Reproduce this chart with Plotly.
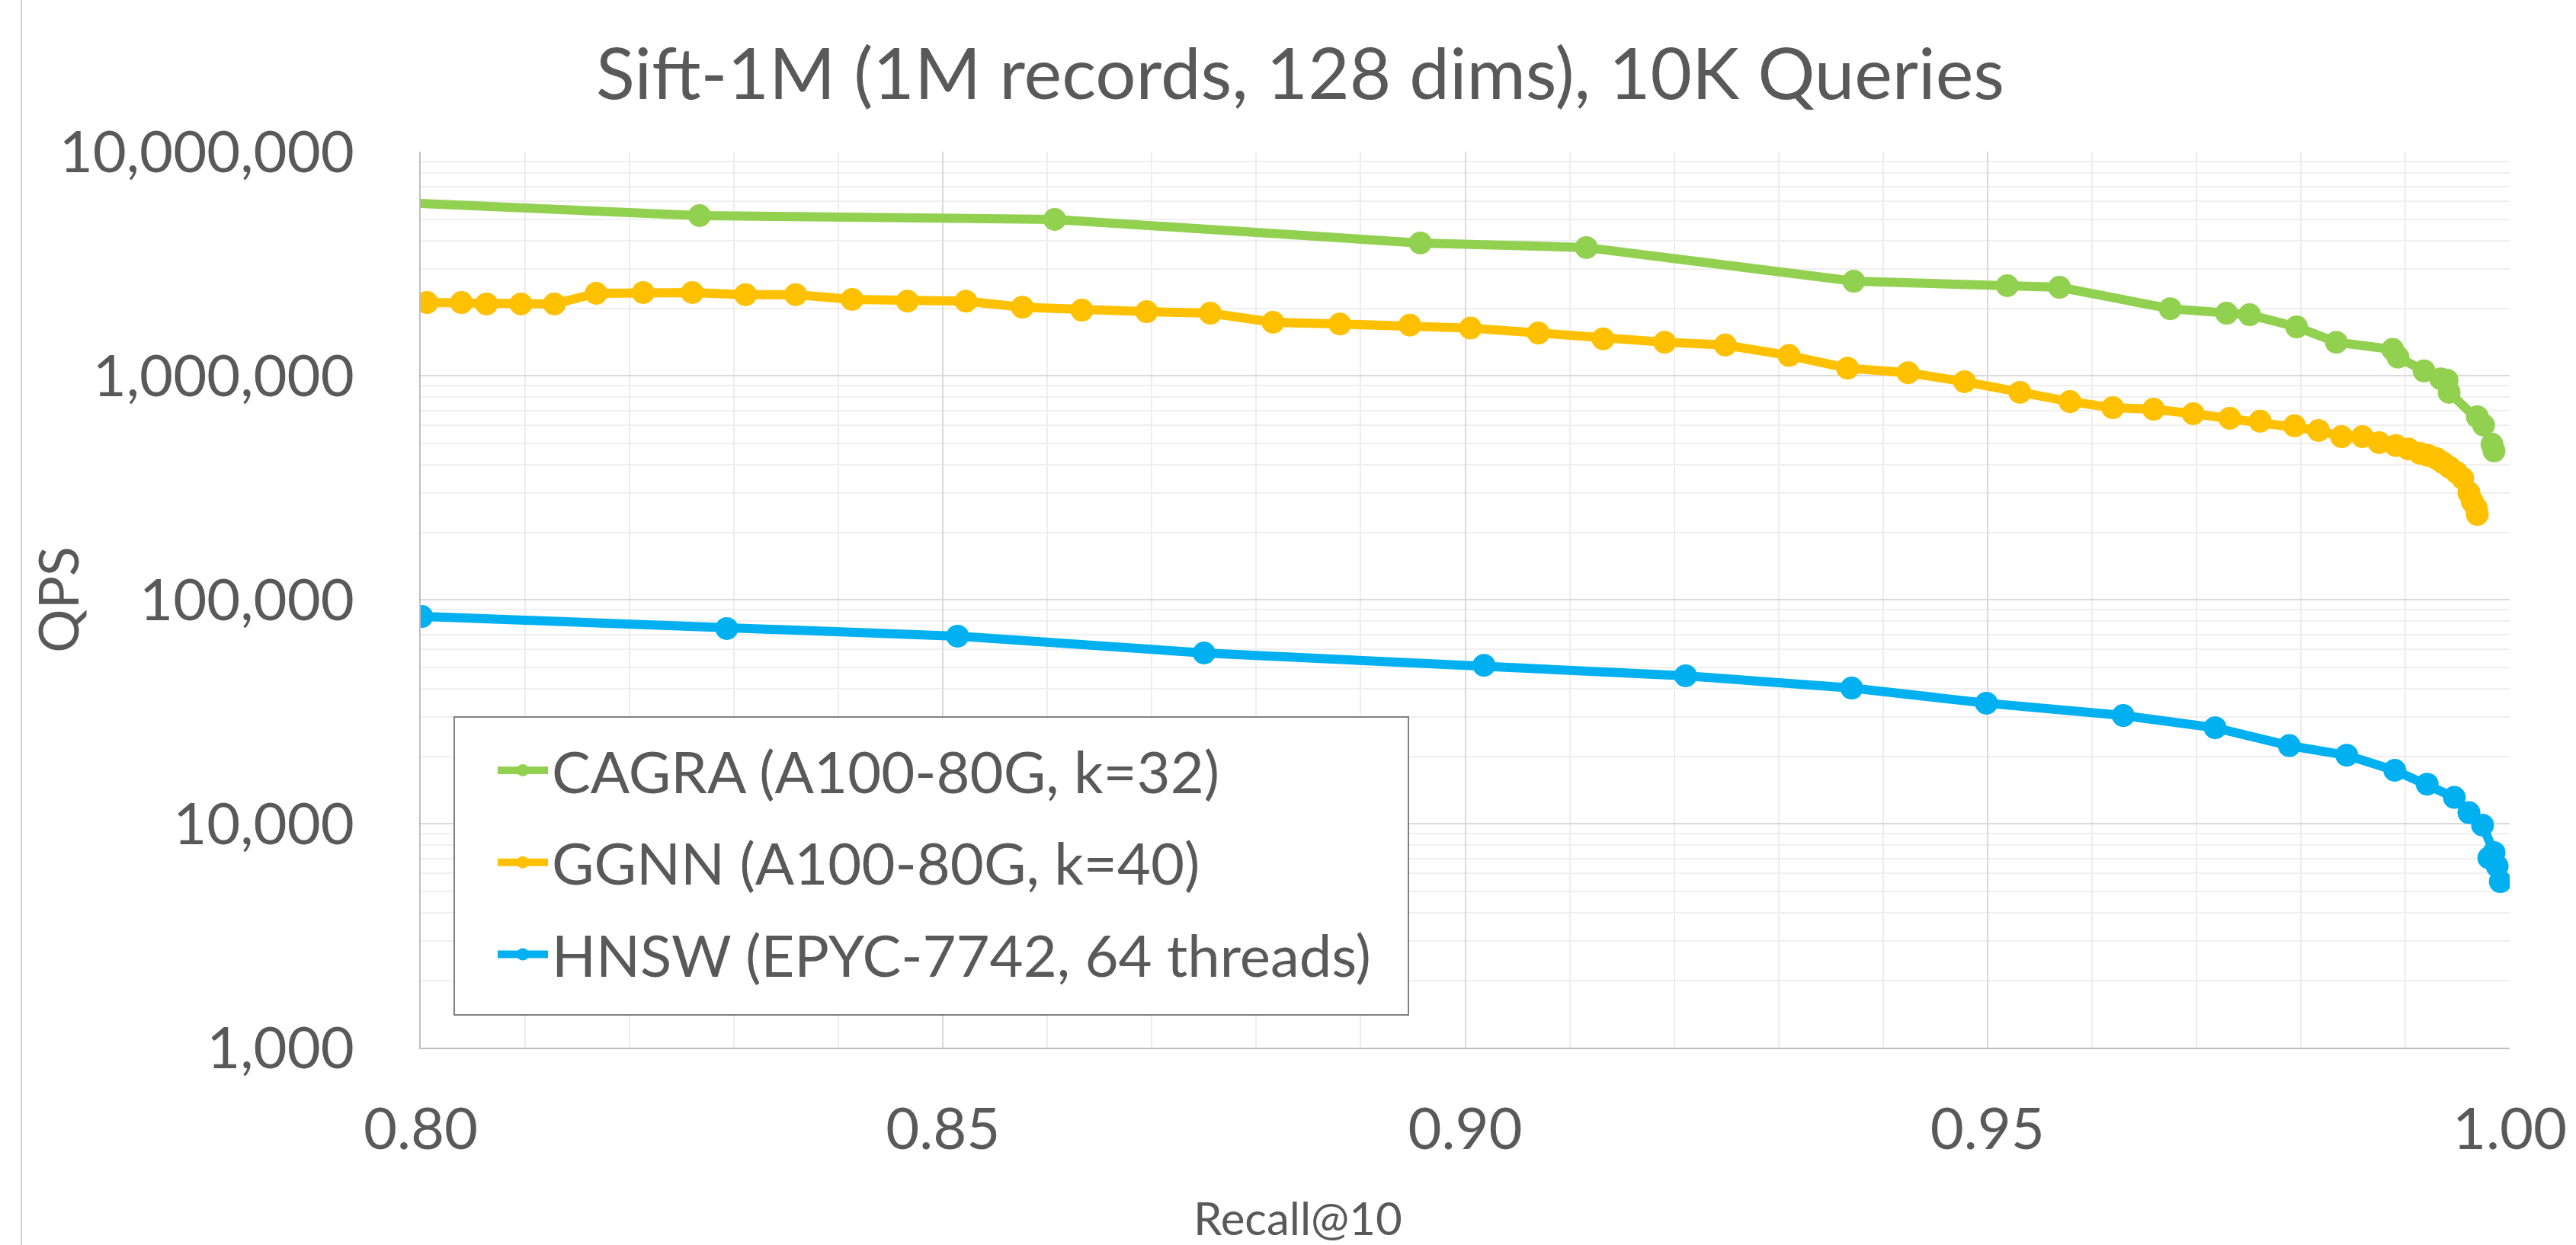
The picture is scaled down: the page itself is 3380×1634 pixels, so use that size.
import plotly.graph_objects as go

# ---------------- data ----------------
cagra_recall = [0.790, 0.8267, 0.8607, 0.8957, 0.9116, 0.9372, 0.9519, 0.9569, 0.9675,
                0.9729, 0.9751, 0.9796, 0.9834, 0.9888, 0.9893, 0.9918, 0.9934, 0.9940,
                0.9942, 0.9969, 0.9975, 0.9983, 0.9985]
cagra_qps = [6150000, 5180000, 4980000, 3910000, 3730000, 2640000, 2520000, 2480000, 1990000,
             1900000, 1870000, 1650000, 1410000, 1310000, 1210000, 1050000, 968000, 955000,
             842000, 655000, 601000, 494000, 461000]

ggnn_recall = [0.8006, 0.8039, 0.8063, 0.8096, 0.8128, 0.8168, 0.8213, 0.8260, 0.8311, 0.8359,
               0.8413, 0.8466, 0.8522, 0.8576, 0.8633, 0.8695, 0.8756, 0.8816, 0.8880, 0.8947,
               0.9005, 0.9070, 0.9132, 0.9191, 0.9249, 0.9310, 0.9366, 0.9424, 0.9478, 0.9531,
               0.9579, 0.9620, 0.9659, 0.9697, 0.9732, 0.9761, 0.9794, 0.9817, 0.9839, 0.9859,
               0.9875, 0.9891, 0.9903, 0.9914, 0.9922, 0.9930, 0.9936, 0.9942, 0.9949, 0.9955,
               0.9961, 0.9964, 0.9968, 0.9969]
ggnn_qps = [2120000, 2120000, 2090000, 2090000, 2090000, 2330000, 2350000, 2350000, 2300000, 2300000,
            2190000, 2150000, 2150000, 2020000, 1960000, 1930000, 1900000, 1730000, 1700000, 1680000,
            1630000, 1550000, 1460000, 1410000, 1370000, 1230000, 1080000, 1030000, 940000, 842000,
            766000, 719000, 708000, 676000, 645000, 626000, 597000, 569000, 534000, 534000,
            502000, 487000, 471000, 450000, 440000, 426000, 409000, 391000, 370000, 348000,
            300000, 275000, 256000, 240000]

hnsw_recall = [0.8001, 0.8293, 0.8514, 0.8750, 0.9018, 0.9211, 0.9370, 0.9499, 0.9630, 0.9718,
               0.9789, 0.9844, 0.9890, 0.9921, 0.9947, 0.9961, 0.9974, 0.9985, 0.9980, 0.9988,
               0.9991]
hnsw_qps = [84100, 74300, 68700, 57800, 50900, 45700, 40300, 34500, 30400, 26800,
            22300, 20200, 17300, 15000, 13100, 11200, 9850, 7430, 7030, 6460,
            5510]

series_names = ["CAGRA (A100-80G, k=32)", "GGNN (A100-80G, k=40)", "HNSW (EPYC-7742, 64 threads)"]
series_colors = ["#92D050", "#FFC000", "#00B0F0"]

title_text = "Sift-1M (1M records, 128 dims), 10K Queries"
x_title = "Recall@10"
y_title = "QPS"

# ---------------- layout geometry (pixels of the 3380x1634 canvas) ----------------
W, H = 3380, 1634
PL, PR, PT, PB = 552, 3293, 199, 1375          # plot area
PW, PH = PR - PL, PB - PT


def px(x):   # canvas x -> paper x
    return (x - PL) / PW


def py(y):   # canvas y -> paper y
    return 1 - (y - PT) / PH


FONT = "Lato, 'Open Sans', sans-serif"
TEXT = "#595959"

fig = go.Figure()
for name, color, xs, ys in zip(series_names, series_colors,
                               [cagra_recall, ggnn_recall, hnsw_recall],
                               [cagra_qps, ggnn_qps, hnsw_qps]):
    fig.add_trace(go.Scatter(
        x=xs, y=ys, name=name, mode="lines+markers",
        line=dict(color=color, width=12),
        marker=dict(color=color, size=30),
        legendgroup=name,
    ))

fig.update_layout(
    width=W, height=H,
    margin=dict(l=PL, r=W - PR, t=PT, b=H - PB),
    paper_bgcolor="white", plot_bgcolor="white",
    font=dict(family=FONT, color=TEXT, size=76),
    title=dict(text=title_text, x=1706 / W, xref="container", xanchor="center",
               y=1 - 97 / H, yref="container", yanchor="middle",
               font=dict(family=FONT, color=TEXT, size=94)),
    showlegend=True,
    legend=dict(x=px(648), y=py(955), xref="paper", yref="paper",
                xanchor="left", yanchor="top",
                bgcolor="rgba(0,0,0,0)", borderwidth=0,
                font=dict(family=FONT, color=TEXT, size=76),
                traceorder="grouped", tracegroupgap=19,
                itemwidth=66, itemsizing="trace"),
    shapes=[
        dict(type="rect", xref="paper", yref="paper",
             x0=px(596), x1=px(1848), y0=py(941), y1=py(1332),
             line=dict(color="#808080", width=2), fillcolor="white", layer="above"),
        dict(type="line", xref="paper", yref="paper",
             x0=px(28), x1=px(28), y0=py(0), y1=py(H),
             line=dict(color="#d0d0d0", width=2), layer="below"),
    ],
)

fig.update_xaxes(
    range=[0.8, 1.0], dtick=0.05, tick0=0.8, tickformat=".2f",
    showgrid=True, gridcolor="#d9d9d9", gridwidth=2,
    minor=dict(dtick=0.01, showgrid=True, gridcolor="#ededed", gridwidth=2),
    showline=True, linecolor="#bfbfbf", linewidth=2,
    zeroline=False, ticks="", ticklabelstandoff=40,
    tickfont=dict(family=FONT, color=TEXT, size=76),
)
fig.update_yaxes(
    type="log", range=[3, 7], dtick=1, tickformat=",d",
    showgrid=True, gridcolor="#d9d9d9", gridwidth=2,
    minor=dict(dtick="D1", showgrid=True, gridcolor="#efefef", gridwidth=2),
    showline=True, linecolor="#bfbfbf", linewidth=2,
    zeroline=False, ticks="", ticklabelstandoff=70,
    tickfont=dict(family=FONT, color=TEXT, size=76),
)

fig.add_annotation(text=y_title, xref="paper", yref="paper",
                   x=px(75), y=py(787),
                   xanchor="center", yanchor="middle", textangle=-90, showarrow=False,
                   font=dict(family=FONT, color=TEXT, size=72))
fig.add_annotation(text=x_title, xref="paper", yref="paper",
                   x=px(1703), y=py(1598),
                   xanchor="center", yanchor="middle", showarrow=False,
                   font=dict(family=FONT, color=TEXT, size=60))

fig.write_html("out.html", config={"displayModeBar": False},
               post_script="document.body.style.margin='0px';document.body.style.overflow='hidden';")
